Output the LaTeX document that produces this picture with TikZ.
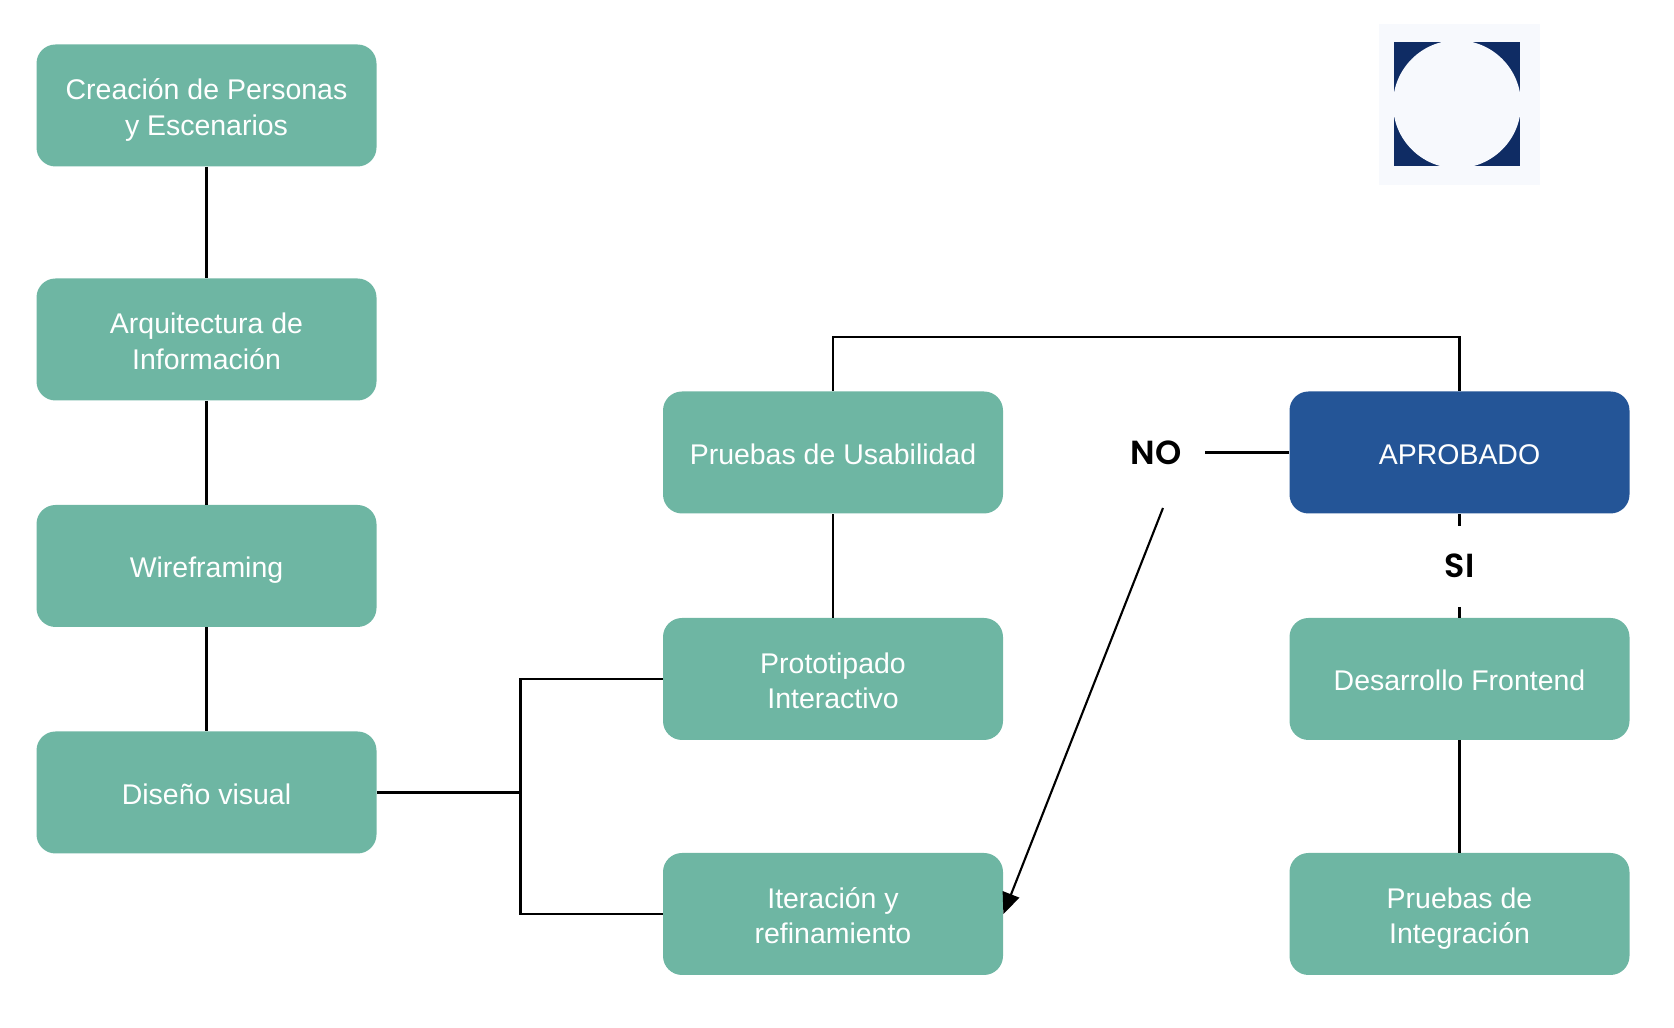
\documentclass[tikz,border=0pt]{standalone}
\usepackage{fontspec}
\setmainfont{Liberation Sans}
\newfontfamily\labelfont{Poppins}[BoldFont={* SemiBold}]
\usetikzlibrary{arrows.meta}
\definecolor{stepgreen}{HTML}{6EB6A3}
\definecolor{stepblue}{HTML}{245597}
\definecolor{logoback}{HTML}{F7F9FD}
\definecolor{logodark}{HTML}{0F2C64}
\newcommand{\stepstrut}{\rule[-4.4pt]{0pt}{22.4pt}}
\newcommand{\talltop}{\rule{0pt}{18pt}}
\tikzset{
  stepbox/.style={fill=stepgreen,rounded corners=0.38cm,minimum width=6.8cm,minimum height=2.44cm,
    align=center,text=white,font=\fontsize{16.2}{20}\selectfont,inner sep=0pt,
    execute at begin node=\stepstrut,execute at end node=\stepstrut},
  okbox/.style={stepbox,fill=stepblue},
  answer/.style={font=\labelfont\bfseries\fontsize{19}{22}\selectfont,text=black,inner sep=0pt},
  link/.style={draw=black,line width=1.2pt},
}
\begin{document}
\begin{tikzpicture}
\useasboundingbox (0,0) rectangle (33.48,20.56);
% logo
\fill [logoback] (27.58,16.86) rectangle (30.8,20.08);
\fill [logodark] (27.88,17.24) rectangle (30.4,19.71);
\fill [logoback] (29.14,18.475) circle (1.28);
% left column
\node [stepbox] (personas) at (4.13,18.45) {\talltop Creación de Personas\\y Escenarios};
\node [stepbox] (arquitectura) at (4.13,13.77) {\talltop Arquitectura de\\Información};
\node [stepbox] (wireframing) at (4.13,9.24) {Wireframing};
\node [stepbox] (visual) at (4.13,4.71) {Diseño visual};
% middle column
\node [stepbox] (usabilidad) at (16.66,11.51) {Pruebas de Usabilidad};
\node [stepbox] (prototipado) at (16.66,6.98) {\talltop Prototipado\\Interactivo};
\node [stepbox] (iteracion) at (16.66,2.28) {\talltop Iteración y\\refinamiento};
% right column
\node [okbox] (aprobado) at (29.19,11.51) {APROBADO};
\node [stepbox] (frontend) at (29.19,6.98) {Desarrollo Frontend};
\node [stepbox] (integracion) at (29.19,2.28) {\talltop Pruebas de\\Integración};
\node [answer] (no) at (23.12,11.5) {NO};
\node [answer] (si) at (29.19,9.24) {SI};
\coordinate (trunk) at (10.41,4.71);
\coordinate (noline) at (24.1,11.51);
\coordinate (noarrow) at (23.26,10.4);
\coordinate (siup) at (29.19,10.04);
\coordinate (sidown) at (29.19,8.42);
\coordinate (toprun) at (16.66,13.82);
% connectors
\draw [link] (personas) -- (arquitectura);
\draw [link] (arquitectura) -- (wireframing);
\draw [link] (wireframing) -- (visual);
\draw [link] (visual) -- (trunk);
\draw [link] (prototipado.west) -| (trunk) |- (iteracion.west);
\draw [link] (prototipado) -- (usabilidad);
\draw [link] (usabilidad.north) -- (toprun) -| (aprobado.north);
\draw [link] (aprobado.west) -- (noline);
\draw [link] (aprobado.south) -- (siup);
\draw [link] (sidown) -- (frontend.north);
\draw [link] (frontend) -- (integracion);
\draw [link,-{Triangle[length=12pt,width=10pt]}] (noarrow) -- (iteracion.east);
\end{tikzpicture}
\end{document}
